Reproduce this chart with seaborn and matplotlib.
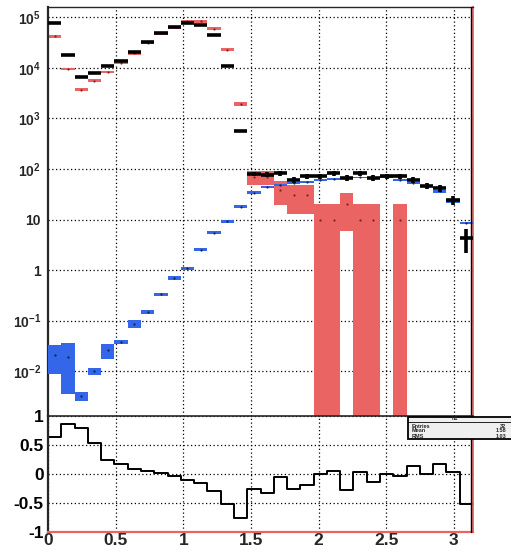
import numpy as np
import pandas as pd
import matplotlib
matplotlib.use("Agg")
import matplotlib.pyplot as plt
import seaborn as sns
from matplotlib.patches import Rectangle
from matplotlib.ticker import FixedLocator, FixedFormatter, LogLocator, MultipleLocator, NullFormatter

# 32 bins from 0 to pi
edges = np.linspace(0, np.pi, 33)
centers = 0.5 * (edges[:-1] + edges[1:])
widths = np.diff(edges)

# data (black points)
data_val = [76000, 18000, 6600, 8000, 11000, 13800, 21000, 32000, 48000, 63000,
            77000, 71000, 45000, 11000, 560, 80, 77, 83, 61, 72,
            72, 83, 67, 83, 67, 72, 72, 61, 47, 42,
            24, 4.3]

# red band (value, error); nan = empty bin
red_val = [42000, 9500, 3700, 5600, 8300, 12500, 19500, 31000, 48000, 63000,
           83000, 83000, 60000, 23000, 1950, 70, 70, 39, 31, 31,
           10, 10, 20, 10, 10, np.nan, 10, np.nan, np.nan, np.nan,
           np.nan, np.nan]
red_err = [2500, 600, 250, 350, 550, 800, 1200, 2000, 3000, 4000,
           5000, 5000, 3800, 1500, 150, 22, 22, 20, 18, 18,
           10, 10, 14, 10, 10, np.nan, 10, np.nan, np.nan, np.nan,
           np.nan, np.nan]

# blue band (value, error)
blue_val = [0.021, 0.0195, 0.0032, 0.010, 0.026, 0.038, 0.086, 0.15, 0.33, 0.70,
            1.08, 2.55, 5.5, 9.2, 18, 34, 44, 49, 53, 56,
            61, 63, 66, 69, 67, 69, 61, 53, 47, 36,
            23, 8.7]
blue_err = [0.012, 0.016, 0.0006, 0.0015, 0.0085, 0.004, 0.015, 0.012, 0.025, 0.05,
            0.08, 0.15, 0.3, 0.5, 1.0, 2.0, 2.0, 2.0, 2.0, 2.0,
            2.0, 2.0, 2.0, 2.0, 2.0, 2.0, 2.0, 2.0, 2.0, 3.0,
            1.5, 0.4]

# ratio panel
ratio_val = [0.63, 0.86, 0.80, 0.53, 0.25, 0.18, 0.09, 0.045, 0.01, -0.03,
             -0.10, -0.16, -0.29, -0.52, -0.75, -0.25, -0.33, -0.06, -0.25, -0.19,
             0.0, 0.06, -0.28, 0.03, -0.13, 0.0, -0.03, 0.14, 0.0, 0.18,
             0.04, -0.52]

top_ticks = [1e-2, 1e-1, 1, 10, 1e2, 1e3, 1e4, 1e5]
top_labels = [r'$\mathbf{10^{-2}}$', r'$\mathbf{10^{-1}}$', '1', '10',
              r'$\mathbf{10^{2}}$', r'$\mathbf{10^{3}}$', r'$\mathbf{10^{4}}$', r'$\mathbf{10^{5}}$']
ratio_ticks = [-1, -0.5, 0, 0.5, 1]
ratio_labels = ['-1', '-0.5', '0', '0.5', '1']
x_ticks = [0, 0.5, 1, 1.5, 2, 2.5, 3]
x_labels = ['0', '0.5', '1', '1.5', '2', '2.5', '3']

RED = '#eb6464'
BLUE = '#3466ea'

sns.set_style("white")
plt.rcParams['font.family'] = ['Liberation Sans', 'DejaVu Sans']
plt.rcParams['font.weight'] = 'bold'
plt.rcParams['mathtext.fontset'] = 'custom'
plt.rcParams['mathtext.rm'] = 'Liberation Sans'
plt.rcParams['mathtext.bf'] = 'Liberation Sans:bold'

W, H = 511, 553
fig = plt.figure(figsize=(W / 100, H / 100), dpi=100)
x0, x1 = 48 / W, 473 / W
ax = fig.add_axes([x0, (H - 416) / H, x1 - x0, (416 - 7) / H])
axr = fig.add_axes([x0, (H - 532) / H, x1 - x0, (532 - 416) / H])

data_val = np.array(data_val)
red_val, red_err = np.array(red_val), np.array(red_err)
blue_val, blue_err = np.array(blue_val), np.array(blue_err)

# red band
m = ~np.isnan(red_val)
lo = np.maximum(red_val[m] - red_err[m], 1e-4)
ax.bar(centers[m], red_val[m] + red_err[m] - lo, bottom=lo, width=widths[m],
       color=RED, linewidth=0, zorder=2)
sns.scatterplot(x=centers[m], y=red_val[m], ax=ax, s=2, color='#7a1f1f',
                edgecolor=None, legend=False, zorder=3)

# blue band
lo = np.maximum(blue_val - blue_err, 1e-4)
ax.bar(centers, blue_val + blue_err - lo, bottom=lo, width=widths,
       color=BLUE, linewidth=0, zorder=4)
sns.scatterplot(x=centers, y=blue_val, ax=ax, s=2, color='#102040',
                edgecolor=None, legend=False, zorder=5)

# data points
ax.errorbar(centers, data_val, xerr=widths / 2, yerr=np.sqrt(data_val),
            fmt='none', ecolor='k', elinewidth=2.6, capsize=0, zorder=6)

ax.set_yscale('log')
ax.set_xlim(0, np.pi)
ax.set_ylim(1.3e-3, 1.6e5)
ax.yaxis.set_major_locator(FixedLocator(top_ticks))
ax.yaxis.set_major_formatter(FixedFormatter(top_labels))
ax.yaxis.set_minor_locator(LogLocator(base=10, subs=np.arange(2, 10), numticks=20))
ax.yaxis.set_minor_formatter(NullFormatter())
ax.xaxis.set_major_locator(FixedLocator(x_ticks[1:]))
ax.set_xticklabels([])
ax.tick_params(axis='x', length=0)
ax.tick_params(axis='y', which='major', direction='in', length=9, width=1.4,
               labelsize=10, pad=5)
ax.tick_params(axis='y', which='minor', direction='in', length=5, width=1.2)
ax.grid(True, which='major', color='k', linestyle=(0, (1, 2)), linewidth=0.9)
ax.set_axisbelow(True)
ax.spines['bottom'].set_visible(False)
ax.spines['left'].set_linewidth(1.6)
ax.spines['top'].set_linewidth(1.0)
ax.spines['right'].set_color(RED)
ax.spines['right'].set_linewidth(1.3)
ax.plot([0.996, 0.996], [0, 1], transform=ax.transAxes, color='k', lw=1.0,
        clip_on=False, zorder=7)

# ratio panel, drawn as a step line over the bin edges
ratio_df = pd.DataFrame({'x': edges, 'y': np.append(ratio_val, ratio_val[-1])})
sns.lineplot(data=ratio_df, x='x', y='y', drawstyle='steps-post', color='k',
             linewidth=1.4, estimator=None, ax=axr)
axr.set_xlim(0, np.pi)
axr.set_ylim(-1, 1)
axr.set_xlabel('')
axr.set_ylabel('')
axr.yaxis.set_major_locator(FixedLocator(ratio_ticks))
axr.yaxis.set_major_formatter(FixedFormatter(ratio_labels))
axr.xaxis.set_major_locator(FixedLocator(x_ticks))
axr.xaxis.set_major_formatter(FixedFormatter(x_labels))
axr.xaxis.set_minor_locator(MultipleLocator(0.1))
axr.tick_params(axis='both', which='major', direction='in', labelsize=12.5)
axr.tick_params(axis='y', which='major', length=9, width=1.6, pad=3, colors='k')
axr.tick_params(axis='x', which='major', length=6, width=1.2, pad=1)
axr.tick_params(axis='x', which='minor', direction='in', length=3, width=1.0)
axr.grid(True, which='major', color='k', linestyle=(0, (1, 2)), linewidth=0.9)
axr.set_axisbelow(True)
axr.spines['left'].set_linewidth(1.6)
axr.spines['top'].set_linewidth(1.2)
axr.spines['bottom'].set_color(RED)
axr.spines['bottom'].set_linewidth(1.6)
axr.spines['right'].set_color(RED)
axr.spines['right'].set_linewidth(1.3)
axr.plot([0.996, 0.996], [0, 1], transform=axr.transAxes, color='k', lw=1.0,
         clip_on=False, zorder=7)

# stats box
bx, by, bw, bh = 408 / W, (H - 439) / H, 110 / W, 22 / H
fig.add_artist(Rectangle((bx, by), bw, bh, transform=fig.transFigure,
                         facecolor='#efefef', edgecolor='k', lw=1.3, zorder=10))
fig.add_artist(plt.Line2D([bx, bx + bw], [(H - 422) / H] * 2, transform=fig.transFigure,
                          color='k', lw=0.6, zorder=11))
fig.text(455 / W, (H - 419) / H, 'h1', fontsize=4, ha='center', va='center', zorder=12)
stats = [('Entries', '32'), ('Mean', '1.58'), ('RMS', '1.03')]
for i, (k, v) in enumerate(stats):
    yy = (H - 426 - 5 * i) / H
    fig.text(412 / W, yy, k, fontsize=4, ha='left', va='center', zorder=12)
    fig.text(506 / W, yy, v, fontsize=4, ha='right', va='center', zorder=12)

fig.savefig('out.png', dpi=100)
